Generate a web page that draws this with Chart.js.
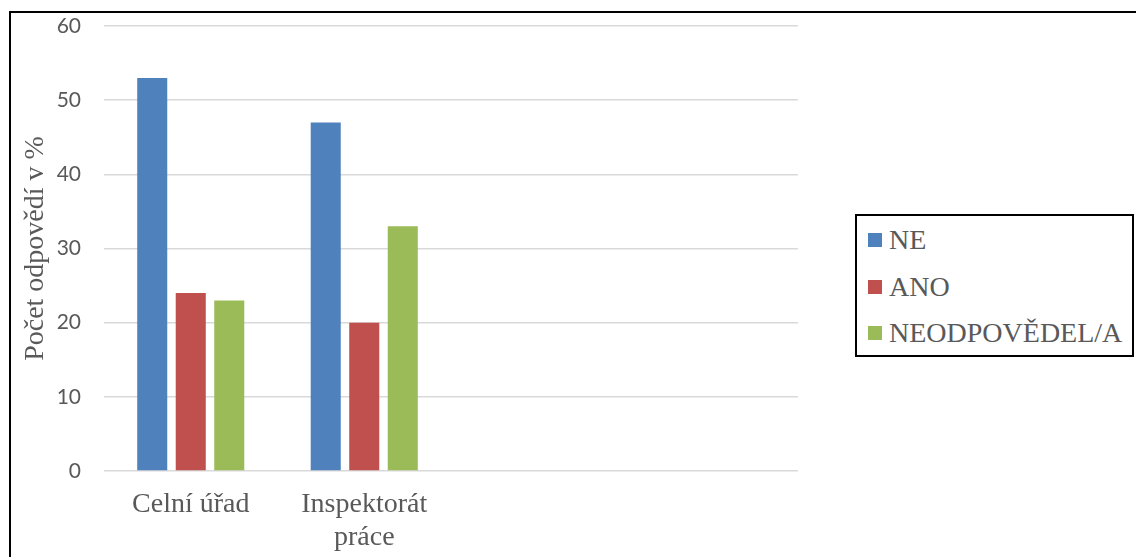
<!DOCTYPE html>
<html>
<head>
<meta charset="utf-8">
<script src="https://cdn.jsdelivr.net/npm/chart.js@4"></script>
<style>
  html, body { margin: 0; padding: 0; background: #fff; overflow: hidden; }
  #frame {
    position: absolute; left: 9px; top: 11px; width: 1300px; height: 700px;
    border: 2px solid #000; box-sizing: border-box;
  }
  #wrap { position: absolute; left: 0; top: 0; width: 1136px; height: 557px; }
  #legend {
    position: absolute; left: 855px; top: 214px; width: 279px; height: 143px;
    border: 2px solid #000; box-sizing: border-box; background: #fff;
    padding: 1px 0 0 11px;
    font-family: "Liberation Serif", "Times New Roman", serif; font-size: 28px; color: #595959;
  }
  .item { display: flex; align-items: center; height: 46.5px; white-space: nowrap; }
  .swatch { width: 14px; height: 14px; margin-right: 7px; flex: none; }
</style>
</head>
<body>
<div id="frame"></div>
<div id="wrap"><canvas id="answers"></canvas></div>
<div id="legend"></div>
<script>
const categories = ["Celní úřad", ["Inspektorát", "práce"], "", ""];
const seriesNames = ["NE", "ANO", "NEODPOVĚDEL/A"];
const neValues = [53, 47];
const anoValues = [24, 20];
const neodpovedelValues = [23, 33];
const yTicks = [0, 10, 20, 30, 40, 50, 60];

const colors = ["#4F81BD", "#C0504D", "#9BBB59"];
const seriesValues = [neValues, anoValues, neodpovedelValues];

const datasets = seriesNames.map((name, i) => ({
  label: name,
  data: seriesValues[i],
  backgroundColor: colors[i],
  borderWidth: 0,
  categoryPercentage: 0.666,
  barPercentage: 0.78,
}));

const chart = new Chart(document.getElementById("answers"), {
  type: "bar",
  data: { labels: categories, datasets },
  options: {
    responsive: true,
    maintainAspectRatio: false,
    animation: false,
    layout: { padding: { top: 26, left: 19, right: 338, bottom: 0 } },
    plugins: { legend: { display: false }, tooltip: { enabled: false } },
    scales: {
      x: {
        grid: { display: false },
        border: { display: false },
        afterFit: (scale) => {
          scale.height = 86;
        },
        ticks: {
          color: "#595959",
          padding: 9,
          maxRotation: 0,
          font: { family: "Liberation Serif", size: 28, lineHeight: 1.18 },
        },
      },
      y: {
        min: 0,
        max: 60,
        afterBuildTicks: (scale) => {
          scale.ticks = yTicks.map((v) => ({ value: v }));
        },
        afterFit: (scale) => {
          scale.width = 85;
          scale.paddingTop = 0;
          scale.paddingBottom = 0;
        },
        grid: { color: "#d9d9d9", lineWidth: 1.5, drawTicks: false },
        border: { display: false },
        ticks: {
          color: "#595959",
          padding: 23,
          font: { family: "Lato", size: 21 },
        },
        title: {
          display: true,
          text: "Počet odpovědí v %",
          color: "#595959",
          padding: { top: 0, bottom: 0 },
          font: { family: "Liberation Serif", size: 28 },
        },
      },
    },
  },
});

// legend box on the right
const legend = document.getElementById("legend");
chart.data.datasets.forEach((ds) => {
  const row = document.createElement("div");
  row.className = "item";
  row.innerHTML = `<span class="swatch" style="background:${ds.backgroundColor}"></span>${ds.label}`;
  legend.appendChild(row);
});
</script>
</body>
</html>
